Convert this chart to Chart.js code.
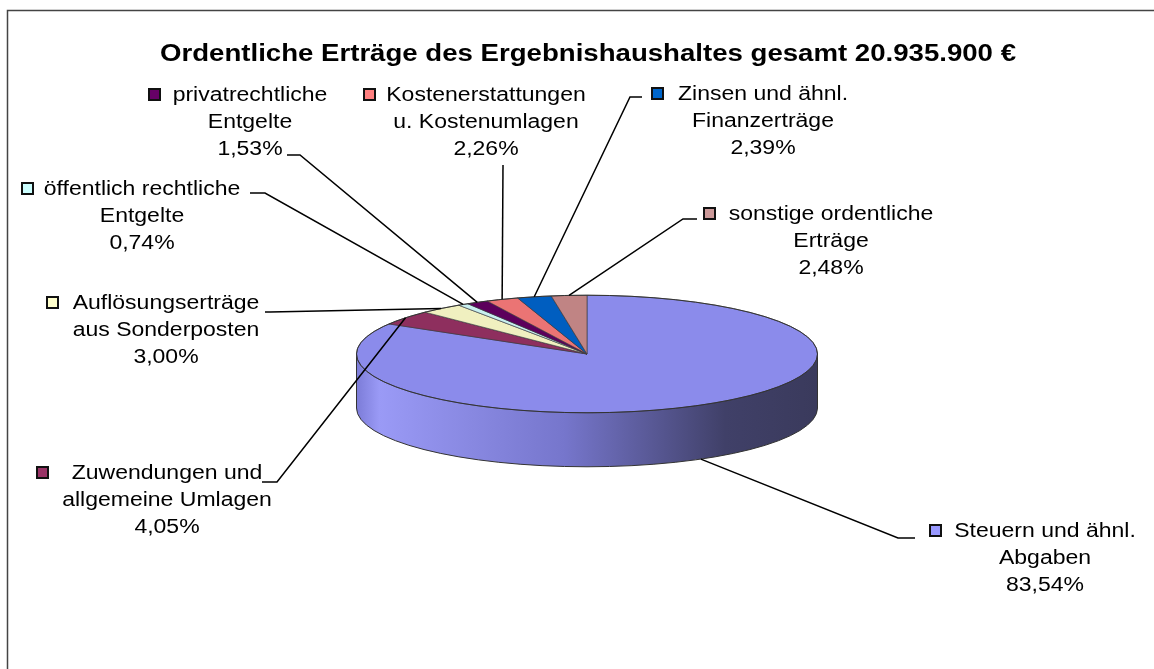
<!DOCTYPE html>
<html>
<head>
<meta charset="utf-8">
<script src="https://cdn.jsdelivr.net/npm/chart.js@4.4.0/dist/chart.umd.min.js"></script>
<style>
    body { margin: 0; background: #fff; }
    canvas { display: block; }
</style>
</head>
<body>
<canvas id="ertraegeChart" width="1154" height="669"></canvas>
<script>
const chartTitle = 'Ordentliche Erträge des Ergebnishaushaltes gesamt 20.935.900 €';
const categories = [
    ['Steuern und ähnl.', 'Abgaben'],
    ['Zuwendungen und', 'allgemeine Umlagen'],
    ['Auflösungserträge', 'aus Sonderposten'],
    ['öffentlich rechtliche', 'Entgelte'],
    ['privatrechtliche', 'Entgelte'],
    ['Kostenerstattungen', 'u. Kostenumlagen'],
    ['Zinsen und ähnl.', 'Finanzerträge'],
    ['sonstige ordentliche', 'Erträge']
];
const shares = [83.54, 4.05, 3.00, 0.74, 1.53, 2.26, 2.39, 2.48];
const sliceColors = ['#8b8beb', '#8e2f5e', '#f0f0c0', '#c8f0f0', '#5c005c', '#eb7474', '#005ec0', '#c08484'];
const keyColors = ['#9999ff', '#993366', '#ffffcc', '#ccffff', '#660066', '#ff8080', '#0066cc', '#cc9999'];

// where each label sits: text centre, first line, legend square, leader start + elbow
const labelPos = [
    {x: 1045, y: 531, sq: [930, 525], end: [915, 538], elbow: [898, 538]},
    {x: 167, y: 473, sq: [37, 467], end: [262, 482], elbow: [277, 482]},
    {x: 166, y: 303, sq: [47, 297], end: [265, 312], elbow: [270, 312]},
    {x: 142, y: 189, sq: [22, 183], end: [250, 193], elbow: [265, 193]},
    {x: 250, y: 95, sq: [149, 89], end: [287, 155], elbow: [300, 155]},
    {x: 486, y: 95, sq: [364, 89], end: [503, 165], elbow: [503, 165]},
    {x: 763, y: 94, sq: [652, 88], end: [642, 97], elbow: [630, 97]},
    {x: 831, y: 214, sq: [704, 208], end: [697, 219], elbow: [683, 219]}
];

const tilt = 0.255;     // vertical squash of the pie
const depth = 54;       // height of the pie side
const textStretch = 1.15;
const lineGap = 27;

function squash(ctx, cx, cy) {
    ctx.translate(cx, cy);
    ctx.scale(1, tilt);
    ctx.translate(-cx, -cy);
}

function stretchText(ctx, text, x, y, font, sx) {
    ctx.save();
    ctx.font = font;
    ctx.fillStyle = '#000';
    ctx.textAlign = 'center';
    ctx.textBaseline = 'middle';
    ctx.translate(x, y);
    ctx.scale(sx, 1);
    ctx.fillText(text, 0, 0);
    ctx.restore();
}

const pie3d = {
    id: 'pie3d',
    beforeDraw(chart) {
        const ctx = chart.ctx;
        ctx.save();
        ctx.strokeStyle = '#444';
        ctx.lineWidth = 1.5;
        ctx.beginPath();
        ctx.moveTo(7.5, chart.height);
        ctx.lineTo(7.5, 10.5);
        ctx.lineTo(chart.width, 10.5);
        ctx.stroke();
        ctx.restore();
    },
    beforeDatasetsDraw(chart) {
        const ctx = chart.ctx;
        const arcs = chart.getDatasetMeta(0).data;
        const {x, y, outerRadius: r} = arcs[0];
        const grad = ctx.createLinearGradient(x - r, 0, x + r, 0);
        grad.addColorStop(0, '#7c7cd8');
        grad.addColorStop(0.05, '#9a9af6');
        grad.addColorStop(0.45, '#7676cc');
        grad.addColorStop(0.8, '#404068');
        grad.addColorStop(1, '#3a3a5c');
        for (let d = depth; d >= 1; d--) {
            ctx.save();
            ctx.translate(0, d);
            squash(ctx, x, y);
            arcs.forEach(arc => {
                const o = arc.options;
                arc.options = Object.assign({}, o, {backgroundColor: grad, borderWidth: 0});
                arc.draw(ctx);
                arc.options = o;
            });
            ctx.restore();
        }
        ctx.save();
        ctx.strokeStyle = '#333';
        ctx.lineWidth = 1;
        ctx.beginPath();
        ctx.ellipse(x, y + depth, r, r * tilt, 0, 0, Math.PI);
        ctx.moveTo(x - r, y);
        ctx.lineTo(x - r, y + depth);
        ctx.moveTo(x + r, y);
        ctx.lineTo(x + r, y + depth);
        ctx.stroke();
        ctx.restore();
    },
    beforeDatasetDraw(chart) {
        const arc = chart.getDatasetMeta(0).data[0];
        chart.ctx.save();
        squash(chart.ctx, arc.x, arc.y);
    },
    afterDatasetDraw(chart) {
        const ctx = chart.ctx;
        ctx.restore();
        const {x, y, outerRadius: r} = chart.getDatasetMeta(0).data[0];
        ctx.save();
        ctx.strokeStyle = '#333';
        ctx.lineWidth = 1;
        ctx.beginPath();
        ctx.ellipse(x, y, r, r * tilt, 0, 0, Math.PI * 2);
        ctx.stroke();
        ctx.restore();
    },
    afterDraw(chart) {
        const ctx = chart.ctx;
        const arcs = chart.getDatasetMeta(0).data;

        stretchText(ctx, chartTitle, 588, 55, 'bold 23px "Liberation Sans", Arial, sans-serif', 1.2);

        arcs.forEach((arc, i) => {
            const p = labelPos[i];
            const a = (arc.startAngle + arc.endAngle) / 2;
            const ax = arc.x + arc.outerRadius * Math.cos(a);
            let ay = arc.y + arc.outerRadius * tilt * Math.sin(a);
            if (Math.sin(a) > 0) ay += depth;

            ctx.save();
            ctx.strokeStyle = '#000';
            ctx.lineWidth = 1.5;
            ctx.beginPath();
            ctx.moveTo(p.end[0], p.end[1]);
            ctx.lineTo(p.elbow[0], p.elbow[1]);
            ctx.lineTo(ax, ay);
            ctx.stroke();

            ctx.fillStyle = keyColors[i];
            ctx.fillRect(p.sq[0], p.sq[1], 11, 11);
            ctx.strokeStyle = '#111';
            ctx.lineWidth = 2;
            ctx.strokeRect(p.sq[0], p.sq[1], 11, 11);
            ctx.restore();

            const lines = [...categories[i], shares[i].toFixed(2).replace('.', ',') + '%'];
            lines.forEach((t, k) => {
                stretchText(ctx, t, p.x, p.y + k * lineGap, '20px "Liberation Sans", Arial, sans-serif', textStretch);
            });
        });
    }
};

new Chart(document.getElementById('ertraegeChart'), {
    type: 'pie',
    data: {
        labels: categories.map(c => c.join(' ')),
        datasets: [{
            data: shares,
            backgroundColor: sliceColors,
            borderColor: '#3a3a3a',
            borderWidth: 1,
            clip: false
        }]
    },
    options: {
        responsive: false,
        animation: false,
        events: [],
        layout: {
            padding: {left: 356, right: 336, top: 123, bottom: 84}
        },
        plugins: {
            legend: {display: false},
            title: {display: false},
            tooltip: {enabled: false}
        }
    },
    plugins: [pie3d]
});
</script>
</body>
</html>
